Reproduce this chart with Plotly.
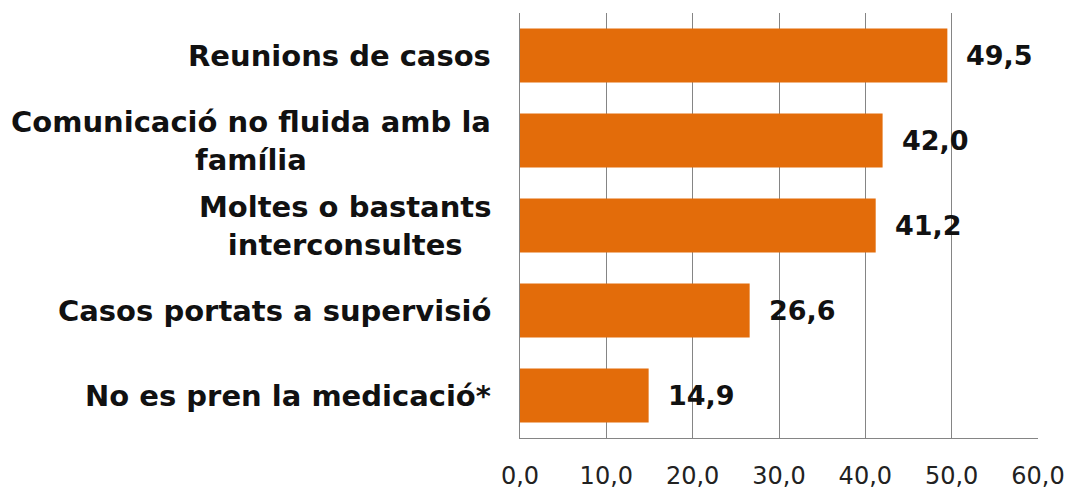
import plotly.graph_objects as go

categories = [
    "Reunions de casos",
    "Comunicació no fluida amb la<br>família",
    "Moltes o bastants<br>interconsultes",
    "Casos portats a supervisió",
    "No es pren la medicació*",
]
values = [49.5, 42.0, 41.2, 26.6, 14.9]
value_labels = ["49,5", "42,0", "41,2", "26,6", "14,9"]
tick_vals = [0, 10, 20, 30, 40, 50, 60]
tick_text = ["0,0", "10,0", "20,0", "30,0", "40,0", "50,0", "60,0"]

BAR_COLOR = "#E36C0A"
FONT = "DejaVu Sans, Liberation Sans, Arial, sans-serif"

fig = go.Figure(
    go.Bar(
        x=values,
        y=categories,
        orientation="h",
        marker=dict(color=BAR_COLOR, line=dict(width=0)),
        width=0.635,
        hoverinfo="skip",
    )
)

for cat, val, lab in zip(categories, values, value_labels):
    fig.add_annotation(
        x=val, y=cat, xref="x", yref="y",
        text=lab, showarrow=False, xanchor="left", yanchor="middle",
        xshift=17, font=dict(family=FONT, size=27, color="#111111", weight="bold"),
    )
    fig.add_annotation(
        x=0, y=cat, xref="paper", yref="y",
        text=cat, showarrow=False, xanchor="right", yanchor="middle",
        align="center", xshift=-27,
        font=dict(family=FONT, size=29, color="#111111", weight="bold"),
    )

fig.update_layout(
    width=1065, height=483,
    margin=dict(l=512, r=35, t=5, b=53),
    paper_bgcolor="white", plot_bgcolor="white",
    showlegend=False,
)
fig.update_xaxes(
    range=[0, 60], tickvals=tick_vals, ticktext=tick_text,
    showgrid=True, gridcolor="#858585", gridwidth=1,
    showline=True, linecolor="#858585", linewidth=1,
    zeroline=False, ticks="", ticklabelstandoff=16,
    tickfont=dict(family=FONT, size=24, color="#222222"),
    fixedrange=True, automargin=False,
)
fig.update_yaxes(
    autorange="reversed", showticklabels=False,
    showline=True, linecolor="#858585", linewidth=1,
    showgrid=False, ticks="", fixedrange=True, automargin=False,
)

fig.write_html("out.html")
